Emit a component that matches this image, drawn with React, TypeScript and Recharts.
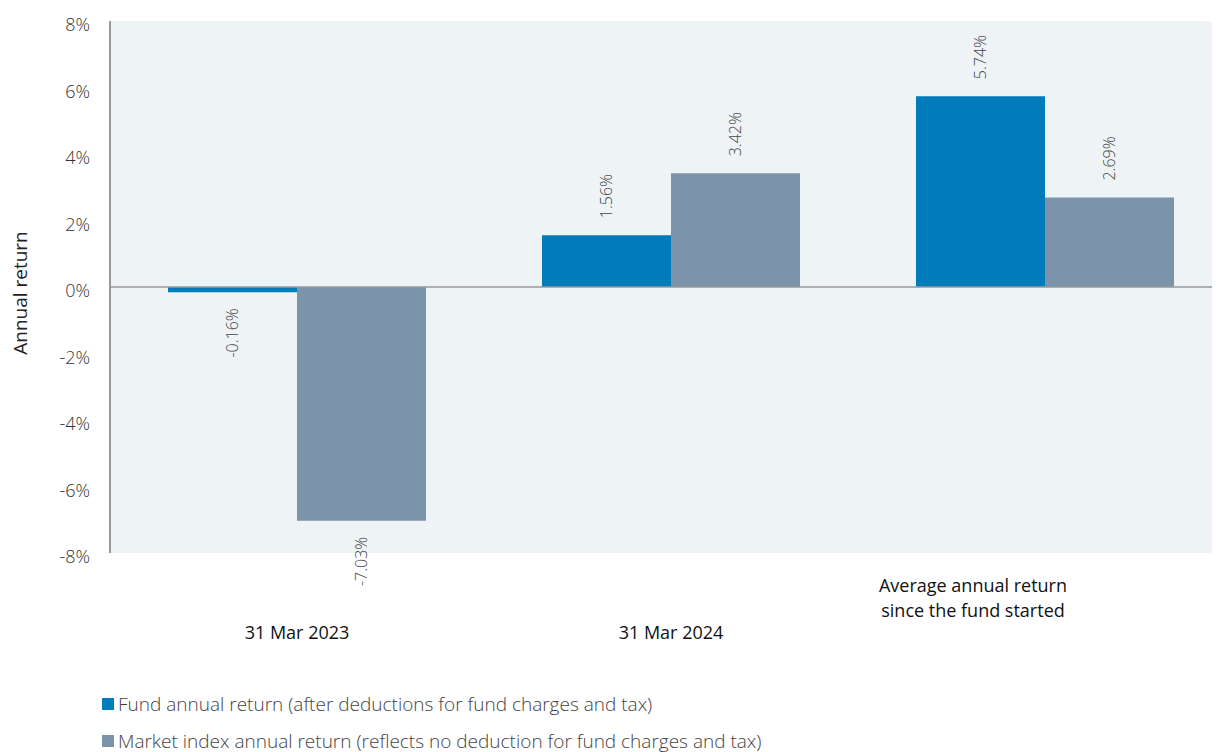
import React from 'react';
import { BarChart, Bar, XAxis, YAxis, CartesianGrid, ReferenceLine, LabelList, Legend } from 'recharts';

const categories = ['31 Mar 2023', '31 Mar 2024', 'Average annual return\nsince the fund started'];
const fundValues = [-0.16, 1.56, 5.74];
const marketValues = [-7.03, 3.42, 2.69];
const yTicks = [-8, -6, -4, -2, 0, 2, 4, 6, 8];
const seriesNames = [
  'Fund annual return (after deductions for fund charges and tax)',
  'Market index annual return (reflects no deduction for fund charges and tax)',
];
const colors = ['#007cba', '#7b94a9'];

const data = categories.map((c, i) => ({ name: c, fund: fundValues[i], market: marketValues[i] }));

const FONT = '"Open Sans", "Noto Sans", sans-serif';

const XTick = (props: any) => {
  const { x, y, payload } = props;
  const lines = String(payload.value).split('\n');
  const multi = lines.length > 1;
  const cx = multi ? x - 72 : x;
  return (
    <g>
      {lines.map((l, i) => (
        <text
          key={i}
          x={cx}
          y={multi ? y + 39 + i * 25 : y + 86}
          textAnchor="middle"
          fontFamily={FONT}
          fontSize={18}
          fill="#111"
        >
          {l}
        </text>
      ))}
    </g>
  );
};

const YTick = (props: any) => {
  const { x, y, payload } = props;
  return (
    <text x={x} y={y + 10} textAnchor="end" fontFamily={FONT} fontSize={18} fontWeight={300} fill="#333">
      {`${payload.value}%`}
    </text>
  );
};

const BarLabel = (props: any) => {
  const { x, y, width, height, value } = props;
  const cx = Number(x) + Number(width) / 2;
  const top = Math.min(Number(y), Number(y) + Number(height));
  const bottom = Math.max(Number(y), Number(y) + Number(height));
  const v = Number(value);
  const ty = v >= 0 ? top - 17 : bottom + 16;
  return (
    <text
      x={cx}
      y={ty}
      transform={`rotate(-90, ${cx}, ${ty})`}
      textAnchor={v >= 0 ? 'start' : 'end'}
      dominantBaseline="central"
      fontFamily={FONT}
      fontSize={16}
      fontWeight={300}
      fill="#444"
    >
      {`${v.toFixed(2)}%`}
    </text>
  );
};

const YLabel = (props: any) => {
  const { viewBox } = props;
  const cx = 12;
  const cy = viewBox.y + viewBox.height / 2 + 6;
  return (
    <text
      x={cx}
      y={cy}
      transform={`rotate(-90, ${cx}, ${cy})`}
      textAnchor="middle"
      dominantBaseline="central"
      fontFamily={FONT}
      fontSize={19}
      fill="#222"
    >
      Annual return
    </text>
  );
};

const LegendContent = () => (
  <div style={{ fontFamily: FONT, fontSize: 19, fontWeight: 300, color: '#444', lineHeight: '20px' }}>
    {seriesNames.map((n, i) => (
      <div key={i} style={{ display: 'flex', alignItems: 'center', height: 37, whiteSpace: 'nowrap' }}>
        <span style={{ display: 'inline-block', width: 12, height: 12, background: colors[i], marginRight: 4 }} />
        <span>{n}</span>
      </div>
    ))}
  </div>
);

export default function App() {
  return (
    <div style={{ width: 1212, height: 744, overflow: 'hidden' }}>
      <BarChart
        width={1230}
        height={744}
        data={data}
        margin={{ top: 13, right: 6, left: 0, bottom: 49 }}
        barCategoryGap={58}
        barGap={0}
      >
        <CartesianGrid horizontal={false} vertical={false} fill="#eef3f6" />
        <XAxis dataKey="name" axisLine={false} tickLine={false} tickSize={0} tickMargin={0} height={150} tick={<XTick />} interval={0} />
        <YAxis
          domain={[-8, 8]}
          ticks={yTicks}
          width={102}
          axisLine={{ stroke: '#999', strokeWidth: 2 }}
          tickLine={false}
          tickSize={0}
          tickMargin={20}
          tick={<YTick />}
          interval={0}
          label={<YLabel />}
        />
        <Bar dataKey="fund" fill={colors[0]} isAnimationActive={false}>
          <LabelList dataKey="fund" content={<BarLabel />} />
        </Bar>
        <Bar dataKey="market" fill={colors[1]} isAnimationActive={false}>
          <LabelList dataKey="market" content={<BarLabel />} />
        </Bar>
        <ReferenceLine y={0} stroke="#999" strokeWidth={1.5} />
        <Legend
          layout="horizontal"
          align="center"
          verticalAlign="middle"
          content={<LegendContent />}
          wrapperStyle={{ left: 94, top: 677, width: 'auto' }}
        />
      </BarChart>
    </div>
  );
}
